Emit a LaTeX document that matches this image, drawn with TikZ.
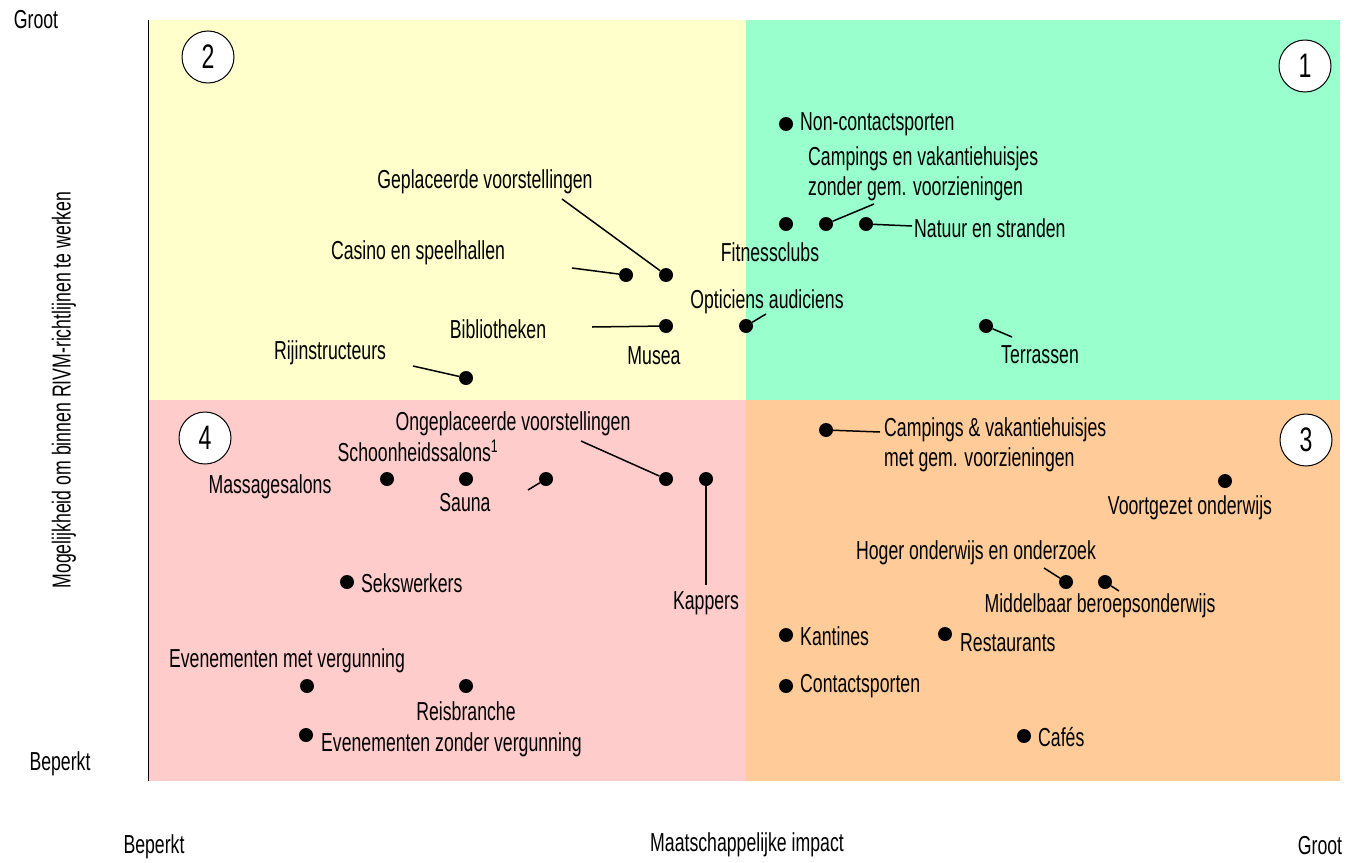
\documentclass[tikz,border=0pt]{standalone}
\usepackage{fontspec}
\setmainfont[FakeStretch=0.68]{Liberation Sans}
\definecolor{qyellow}{HTML}{FFFFCC}
\definecolor{qgreen}{HTML}{99FFCC}
\definecolor{qpink}{HTML}{FFCCCC}
\definecolor{qorange}{HTML}{FFCC99}
\begin{document}
\begin{tikzpicture}[x=1pt,y=-1pt,
  dot/.style={circle,fill=black,inner sep=0pt,minimum size=14pt},
  lbl/.style={inner sep=0pt,font=\fontsize{26}{30}\selectfont},
  num/.style={circle,draw=black,fill=white,line width=1pt,minimum size=52pt,inner sep=0pt,font=\fontsize{34}{36}\selectfont},
  conn/.style={draw=black,line width=1.5pt}]
\useasboundingbox (0,0) rectangle (1348,862);
\fill[white] (0,0) rectangle (1348,862);
% quadrants
\fill[qyellow] (148,20) rectangle (746,400);
\fill[qgreen] (746,20) rectangle (1340,400);
\fill[qpink] (148,400) rectangle (746,781);
\fill[qorange] (746,400) rectangle (1340,781);
\draw[line width=1pt] (148,20) -- (148,781);
% quadrant numbers
\node[num] (n1) at (1305,66) {1};
\node[num] (n2) at (208,57) {2};
\node[num] (n3) at (1306,440) {3};
\node[num] (n4) at (205,438) {4};
% axis labels
\node[lbl] (ytop) at (36,20) {Groot};
\node[lbl] (ybot) at (60,764) {Beperkt};
\node[lbl] (xleft) at (154,847) {Beperkt};
\node[lbl] (xmid) at (747,845) {Maatschappelijke impact};
\node[lbl] (xright) at (1320,846) {Groot};
\node[lbl,rotate=90] (ylab) at (64,390) {Mogelijkheid om binnen RIVM-richtlijnen te werken};
% quadrant 1
\node[dot] (dnc) at (786,124) {};
\node[lbl,anchor=west] (lnc) at (800,124) {Non-contactsporten};
\node[lbl,align=left,anchor=north west] (lcz) at (808,146) {Campings en vakantiehuisjes\\zonder gem. voorzieningen};
\node[dot] (dcz) at (826,224) {};
\coordinate (ccz) at (874,204);
\draw[conn] (dcz) -- (ccz);
\node[dot] (dfit) at (786,224) {};
\node[lbl] (lfit) at (770,252) {Fitnessclubs};
\node[dot] (dnat) at (866,224) {};
\coordinate (cnat) at (912,226);
\draw[conn] (dnat) -- (cnat);
\node[lbl,anchor=west] (lnat) at (914,228) {Natuur en stranden};
\node[dot] (dter) at (986,326) {};
\coordinate (cter) at (1012,337);
\draw[conn] (dter) -- (cter);
\node[lbl] (lter) at (1040,355) {Terrassen};
% quadrant 2
\node[lbl] (lgep) at (485,182) {Geplaceerde voorstellingen};
\coordinate (cgep) at (562,199);
\node[dot] (dgep) at (666,275) {};
\draw[conn] (cgep) -- (dgep);
\node[lbl] (lcas) at (418,253) {Casino en speelhallen};
\coordinate (ccas) at (572,268);
\node[dot] (dcas) at (626,275) {};
\draw[conn] (ccas) -- (dcas);
\node[lbl] (lopt) at (767,302) {Opticiens audiciens};
\node[dot] (dopt) at (746,326) {};
\coordinate (copt) at (766,314);
\draw[conn] (dopt) -- (copt);
\node[lbl] (lbib) at (498,329) {Bibliotheken};
\coordinate (cbib) at (592,327);
\node[dot] (dbib) at (666,326) {};
\draw[conn] (cbib) -- (dbib);
\node[lbl] (lmus) at (654,356) {Musea};
\node[lbl] (lrij) at (330,353) {Rijinstructeurs};
\coordinate (crij) at (413,366);
\node[dot] (drij) at (466,378) {};
\draw[conn] (crij) -- (drij);
% quadrant 4
\node[lbl] (long) at (513,424) {Ongeplaceerde voorstellingen};
\coordinate (cong) at (581,441);
\node[dot] (dong) at (666,479) {};
\draw[conn] (cong) -- (dong);
\node[lbl] (lsch) at (418,451) {Schoonheidssalons\textsuperscript{1}};
\node[dot] (dsch) at (466,479) {};
\node[lbl] (lmas) at (270,487) {Massagesalons};
\node[dot] (dmas) at (387,479) {};
\node[lbl] (lsau) at (465,503) {Sauna};
\coordinate (csau) at (528,490);
\node[dot] (dsau) at (546,479) {};
\draw[conn] (csau) -- (dsau);
\node[dot] (dkap) at (706,479) {};
\coordinate (ckap) at (706,585);
\draw[conn] (dkap) -- (ckap);
\node[lbl] (lkap) at (706,603) {Kappers};
\node[dot] (dsek) at (347,582) {};
\node[lbl,anchor=west] (lsek) at (361,583) {Sekswerkers};
\node[lbl] (lemv) at (287,661) {Evenementen met vergunning};
\node[dot] (demv) at (307,686) {};
\node[dot] (drei) at (466,686) {};
\node[lbl] (lrei) at (466,711) {Reisbranche};
\node[dot] (dezv) at (306,735) {};
\node[lbl,anchor=west] (lezv) at (321,745) {Evenementen zonder vergunning};
% quadrant 3
\node[dot] (dcm) at (826,430) {};
\coordinate (ccm) at (880,432);
\draw[conn] (dcm) -- (ccm);
\node[lbl,align=left,anchor=north west] (lcm) at (884,417) {Campings \& vakantiehuisjes\\met gem. voorzieningen};
\node[dot] (dvo) at (1225,481) {};
\node[lbl] (lvo) at (1190,508) {Voortgezet onderwijs};
\node[lbl] (lho) at (976,553) {Hoger onderwijs en onderzoek};
\coordinate (cho) at (1044,568);
\node[dot] (dho) at (1066,582) {};
\draw[conn] (cho) -- (dho);
\node[dot] (dmb) at (1105,582) {};
\coordinate (cmb) at (1119,591);
\draw[conn] (dmb) -- (cmb);
\node[lbl] (lmb) at (1100,606) {Middelbaar beroepsonderwijs};
\node[dot] (dkan) at (786,635) {};
\node[lbl,anchor=west] (lkan) at (800,636) {Kantines};
\node[dot] (dres) at (945,634) {};
\node[lbl,anchor=west] (lres) at (960,643) {Restaurants};
\node[dot] (dcon) at (786,686) {};
\node[lbl,anchor=west] (lcon) at (800,686) {Contactsporten};
\node[dot] (dcaf) at (1024,736) {};
\node[lbl,anchor=west] (lcaf) at (1038,737) {Cafés};
\end{tikzpicture}
\end{document}
